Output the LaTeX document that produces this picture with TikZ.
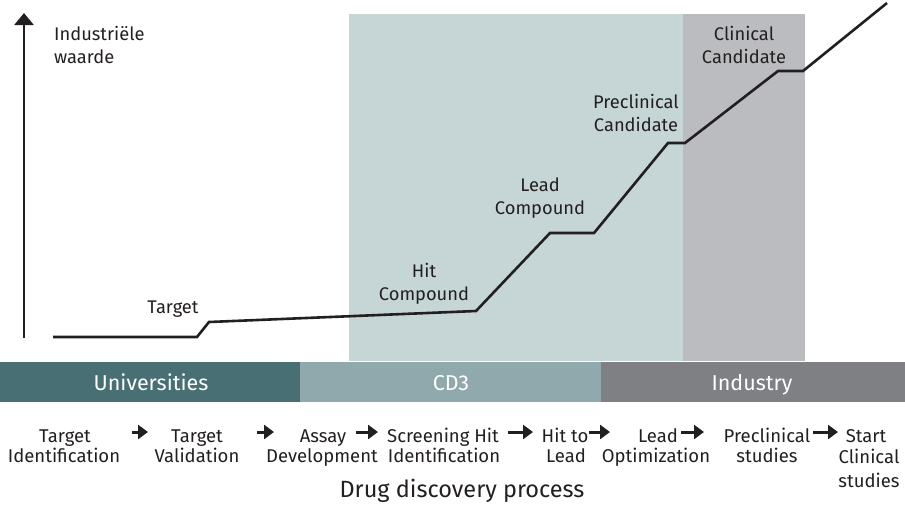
\documentclass[tikz,border=0pt]{standalone}
\usepackage{fontspec}
\IfFontExistsTF{Fira Sans Book}{\setmainfont{Fira Sans Book}}{\setmainfont{Fira Sans}}
\usetikzlibrary{arrows.meta}

\definecolor{inkdark}{HTML}{231F20}
\definecolor{cdthreelight}{HTML}{C6D5D6}
\definecolor{industrylight}{HTML}{BBBCC0}
\definecolor{unidark}{HTML}{487074}
\definecolor{cdthreemid}{HTML}{8FA9AC}
\definecolor{industrymid}{HTML}{7F8083}

\tikzset{
  chartlbl/.style={font=\fontsize{18.3}{22}\selectfont, text=inkdark, inner sep=0pt, anchor=base},
  proclbl/.style={font=\fontsize{18.5}{20}\selectfont, text=inkdark, inner sep=0pt, anchor=base},
  bandlbl/.style={font=\fontsize{21.5}{24}\selectfont, text=white, inner sep=0pt, anchor=base},
  titlelbl/.style={font=\fontsize{23.5}{26}\selectfont, text=inkdark, inner sep=0pt, anchor=base},
  valuecurve/.style={draw=inkdark, line width=2.6pt, line join=miter},
  axisline/.style={draw=inkdark, line width=2.6pt, -{Triangle[width=19pt,length=12pt]}},
  procarrow/.style={draw=inkdark, line width=3pt, -{Triangle[width=14pt,length=10pt]}},
}

\begin{document}
\begin{tikzpicture}[x=1pt,y=-1pt]
\useasboundingbox (0,0) rectangle (905,507);

% shaded phase areas behind the value curve
\fill[cdthreelight] (349,14) rectangle (683,361);
\fill[industrylight] (683,14) rectangle (805,361);

% organisation bands
\fill[unidark] (0,362) rectangle (300,402);
\fill[cdthreemid] (300,362) rectangle (601,402);
\fill[industrymid] (601,362) rectangle (905,402);
\node[bandlbl] (uni) at (151,390) {Universities};
\node[bandlbl] (cd3) at (451,390) {CD3};
\node[bandlbl] (ind) at (752,390) {Industry};

% value axis
\coordinate (axbot) at (24,338);
\coordinate (axtop) at (24,13);
\draw[axisline] (axbot) -- (axtop);
\node[chartlbl, anchor=base west] (yl1) at (54,40) {Industriële};
\node[chartlbl, anchor=base west] (yl2) at (54,63) {waarde};

% value curve through the milestones
\coordinate (c0) at (53,337);
\coordinate (c1) at (197,337);
\coordinate (c2) at (209,322);
\coordinate (c3) at (476,311);
\coordinate (c4) at (550,233);
\coordinate (c5) at (594,233);
\coordinate (c6) at (668,143);
\coordinate (c7) at (685,143);
\coordinate (c8) at (778,71);
\coordinate (c9) at (803,71);
\coordinate (c10) at (887,3);
\draw[valuecurve] (c0) -- (c1) -- (c2) -- (c3) -- (c4) -- (c5) -- (c6) -- (c7) -- (c8) -- (c9) -- (c10);

% milestone labels
\node[chartlbl] (mTarget) at (173,313) {Target};
\node[chartlbl] (mHitA) at (424,277) {Hit};
\node[chartlbl] (mHitB) at (424,300) {Compound};
\node[chartlbl] (mLeadA) at (540,191) {Lead};
\node[chartlbl] (mLeadB) at (540,214) {Compound};
\node[chartlbl] (mPreA) at (636,108) {Preclinical};
\node[chartlbl] (mPreB) at (636,131) {Candidate};
\node[chartlbl] (mCliA) at (744,40) {Clinical};
\node[chartlbl] (mCliB) at (744,63) {Candidate};

% process steps
\node[proclbl] (p1a) at (65,442) {Target};
\node[proclbl] (p1b) at (64,462) {Identification};
\node[proclbl] (p2a) at (197,442) {Target};
\node[proclbl] (p2b) at (197,462) {Validation};
\node[proclbl] (p3a) at (323,442) {Assay};
\node[proclbl] (p3b) at (322,462) {Development};
\node[proclbl] (p4a) at (443,442) {Screening Hit};
\node[proclbl] (p4b) at (444,462) {Identification};
\node[proclbl] (p5a) at (565,442) {Hit to};
\node[proclbl] (p5b) at (566,462) {Lead};
\node[proclbl] (p6a) at (658,442) {Lead};
\node[proclbl] (p6b) at (656,462) {Optimization};
\node[proclbl] (p7a) at (767,442) {Preclinical};
\node[proclbl] (p7b) at (767,462) {studies};
\node[proclbl] (p8a) at (866,442) {Start};
\node[proclbl] (p8b) at (869,463) {Clinical};
\node[proclbl] (p8c) at (869,487) {studies};

% arrows between the steps
\coordinate (a1s) at (132,432); \coordinate (a1e) at (148,432);
\coordinate (a2s) at (257,432); \coordinate (a2e) at (274,432);
\coordinate (a3s) at (356,432); \coordinate (a3e) at (378,432);
\coordinate (a4s) at (508,432); \coordinate (a4e) at (533,432);
\coordinate (a5s) at (589,432); \coordinate (a5e) at (610,432);
\coordinate (a6s) at (681,432); \coordinate (a6e) at (704,432);
\coordinate (a7s) at (813,432); \coordinate (a7e) at (838,432);
\foreach \k in {1,...,7} {\draw[procarrow] (a\k s) -- (a\k e);}

\node[titlelbl] (title) at (462,497) {Drug discovery process};
\end{tikzpicture}
\end{document}
